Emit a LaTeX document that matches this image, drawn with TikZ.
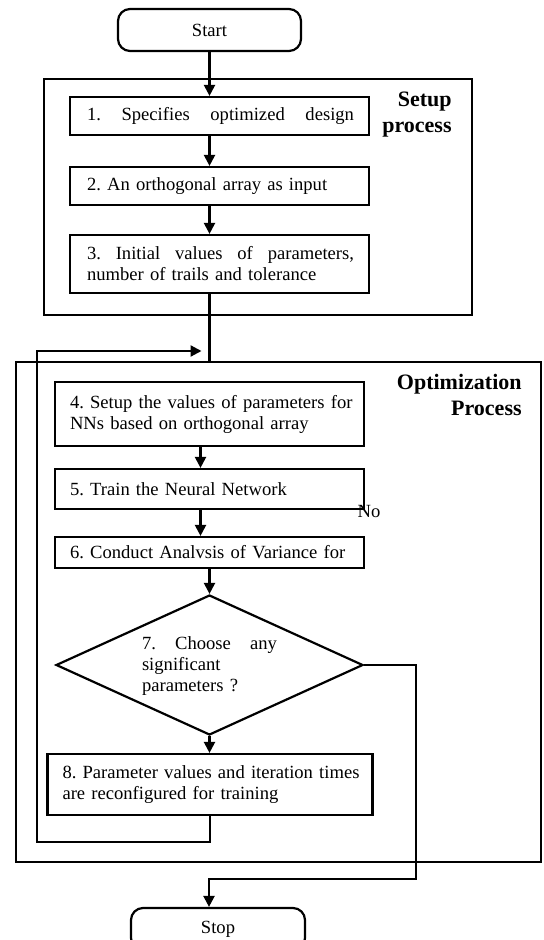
\documentclass[tikz,border=0pt]{standalone}
\usepackage{fontspec}
\setmainfont{Liberation Serif}
\frenchspacing
\usetikzlibrary{arrows.meta,shapes.geometric,positioning}

\begin{document}
\begin{tikzpicture}[x=0.5pt,y=-0.5pt]
	\tikzstyle{stepbox} = [draw, line width=1.1pt, inner xsep=7.5pt, inner ysep=0pt, align=left, font=\fontsize{9.3}{10.5}\selectfont]
	\tikzstyle{terminal} = [draw, line width=1.1pt, rounded corners=6pt, minimum width=91.5pt, minimum height=21pt, font=\fontsize{9.3}{10.5}\selectfont]
	\tikzstyle{decision} = [diamond, draw, line width=1.1pt, inner sep=0pt, minimum width=153.5pt, minimum height=70pt]
	\tikzstyle{frametitle} = [align=right, inner sep=0pt, font=\fontsize{11}{13}\selectfont\bfseries]
	\tikzstyle{flow} = [line width=1.1pt, -{Triangle[length=5.5pt,width=5.5pt]}]
	\tikzstyle{frame} = [line width=1.1pt]
	\useasboundingbox (0,0) rectangle (544,940);
	\clip (0,0) rectangle (544,940);
	% setup process
	\draw[frame] (44,79) rectangle (472,315);
	\node[frametitle, anchor=east] (setuptitle) at (452,115) {Setup\\process};
	\node[terminal] (start) at (209.5,30) {Start};
	\node[stepbox, text width=134.5pt, minimum height=19pt] (s1) at (219.5,116) {\hspace{1pt}1.\hfill Specifies\hfill optimized\hfill design};
	\node[stepbox, text width=134.5pt, minimum height=19pt] (s2) at (219.5,186) {\hspace{1pt}2. An orthogonal array as input};
	\node[stepbox, text width=134.5pt, minimum height=29pt] (s3) at (219.5,264) {\hspace{1pt}3.\hfill Initial\hfill values\hfill of\hfill parameters,\\\hspace{1pt}number of trails and tolerance};
	\draw[flow] (start) -- (start |- s1.north);
	\draw[flow] (start |- s1.south) -- (start |- s2.north);
	\draw[flow] (start |- s2.south) -- (start |- s3.north);
	% optimization process
	\draw[frame] (16,362) rectangle (541,862);
	\node[frametitle, anchor=east] (opttitle) at (522,395) {Optimization\\Process};
	\node[stepbox, text width=139.5pt, minimum height=32pt] (b4) at (209.5,414) {\mbox{4. Setup the values of parameters for}\\NNs based on orthogonal array};
	\node[stepbox, text width=139.5pt, minimum height=20pt] (b5) at (209.5,489) {5. Train the Neural Network};
	\node[font=\fontsize{9.3}{10.5}\selectfont, inner sep=0pt] (nolabel) at (369,511) {No};
	\node[stepbox, text width=139.5pt, minimum height=15.5pt] (b6) at (209.5,552.5) {6. Conduct Analvsis of Variance for};
	\node[decision] (d7) at (209.5,665) {};
	\node[align=left, text width=67.5pt, inner sep=0pt, font=\fontsize{9.3}{10.5}\selectfont] (t7) at (209.5,666) {7.\hfill Choose\hfill any\\significant\\parameters ?};
	\node[stepbox, text width=147.5pt, minimum height=30.5pt] (b8) at (210,784.5) {\mbox{8. Parameter values and iteration times}\\are reconfigured for training};
	\node[terminal, minimum width=87pt] (stop) at (218,929) {Stop};
	\coordinate (entry) at (209.5,362);
	\coordinate (join) at (209.5,351);
	\coordinate (loopcorner) at (37,842);
	\coordinate (nocorner) at (416,879);
	\draw[frame] (start |- s3.south) -- (entry);
	\draw[flow] ([xshift=-4.5pt]b4.south) -- ([xshift=-4.5pt]b5.north);
	\draw[flow] ([xshift=-4.5pt]b5.south) -- ([xshift=-4.5pt]b6.north);
	\draw[flow] (b6.south) -- (d7.north);
	\draw[flow] (d7.south) -- (d7.south |- b8.north);
	\draw[flow, shorten >=4pt] (b8.south) |- (loopcorner) |- (join);
	\draw[flow] (d7.east) -| (nocorner) -| ([xshift=-4.5pt]stop.north);
\end{tikzpicture}
\end{document}
